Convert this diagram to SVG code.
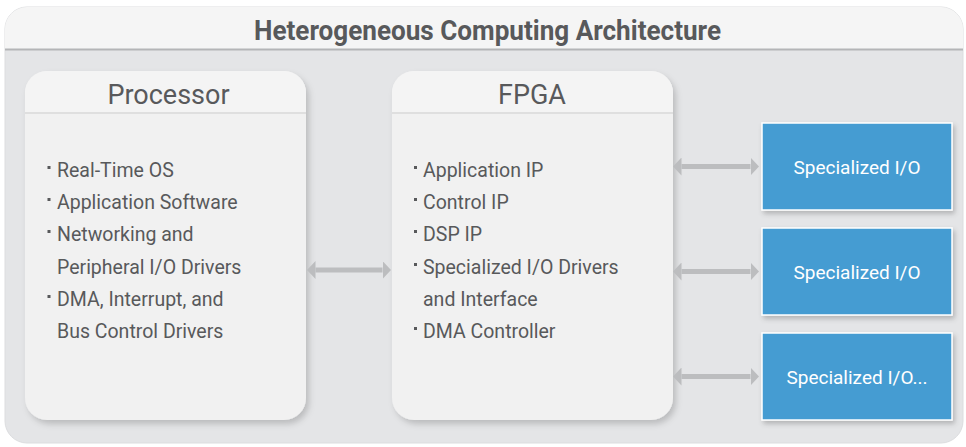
<svg xmlns="http://www.w3.org/2000/svg" width="966" height="447" viewBox="0 0 966 447">
  <style>
    .title { font-family: "Roboto", "Liberation Sans", sans-serif; font-weight: bold; font-size: 27.5px; fill: #58595b; }
    .boxtitle { font-family: "Roboto", "Liberation Sans", sans-serif; font-size: 27px; fill: #58595b; }
    .item { font-family: "Roboto", "Liberation Sans", sans-serif; font-size: 19.5px; fill: #58595b; }
    .io { font-family: "Roboto", "Liberation Sans", sans-serif; font-size: 19px; fill: #ffffff; }
    .card { fill: #f1f1f1; }
    .cardhead { fill: #f4f4f4; }
    .divider { stroke: #d8d8d8; stroke-width: 1.5; }
    .blue { fill: #459cd2; stroke: #ffffff; stroke-width: 1.5; }
    .bullet { fill: #58595b; }
    .conn { stroke: #bcbdbf; stroke-width: 5; fill: none; }
  </style>
  <defs>
    <filter id="shadow" x="-10%" y="-10%" width="125%" height="125%">
      <feDropShadow dx="3" dy="4" stdDeviation="3" flood-color="#000000" flood-opacity="0.18"/>
    </filter>
    <filter id="shadow2" x="-10%" y="-10%" width="125%" height="130%">
      <feDropShadow dx="2" dy="3" stdDeviation="2.5" flood-color="#000000" flood-opacity="0.22"/>
    </filter>
    <marker id="head" markerUnits="userSpaceOnUse" markerWidth="9" markerHeight="18" refX="0" refY="9" orient="auto-start-reverse" viewBox="0 0 9 18">
      <path d="M0,0 L8.5,9 L0,18 z" fill="#bcbdbf"/>
    </marker>
  </defs>

  <g id="container">
    <rect x="5" y="7" width="958" height="436" rx="22" fill="#e4e5e7" stroke="#dcdddf" stroke-width="1"/>
    <path d="M5,49 V29 a22,22 0 0 1 22,-22 H941 a22,22 0 0 1 22,22 V49 z" fill="#f5f5f5"/>
    <line x1="5" y1="49.5" x2="963" y2="49.5" stroke="#b4b5b7" stroke-width="2"/>
    <text class="title" x="487.5" y="39.5" text-anchor="middle" textLength="467" lengthAdjust="spacingAndGlyphs">Heterogeneous Computing Architecture</text>
  </g>

  <g id="processor">
    <rect class="card" x="25" y="71" width="281" height="349" rx="22" filter="url(#shadow)"/>
    <path class="cardhead" d="M25,113 V93 a22,22 0 0 1 22,-22 H284 a22,22 0 0 1 22,22 V113 z"/>
    <line class="divider" x1="25" y1="113" x2="306" y2="113"/>
    <text class="boxtitle" x="168.5" y="104" text-anchor="middle">Processor</text>
    <rect class="bullet" x="47.5" y="166" width="3" height="3"/>
    <text class="item" x="57" y="177">Real-Time OS</text>
    <rect class="bullet" x="47.5" y="198" width="3" height="3"/>
    <text class="item" x="57" y="209">Application Software</text>
    <rect class="bullet" x="47.5" y="230" width="3" height="3"/>
    <text class="item" x="57" y="241">Networking and</text>
    <text class="item" x="57" y="274">Peripheral I/O Drivers</text>
    <rect class="bullet" x="47.5" y="295" width="3" height="3"/>
    <text class="item" x="57" y="306">DMA, Interrupt, and</text>
    <text class="item" x="57" y="338">Bus Control Drivers</text>
  </g>

  <g id="fpga">
    <rect class="card" x="392" y="71" width="281" height="349" rx="22" filter="url(#shadow)"/>
    <path class="cardhead" d="M392,113 V93 a22,22 0 0 1 22,-22 H651 a22,22 0 0 1 22,22 V113 z"/>
    <line class="divider" x1="392" y1="113" x2="673" y2="113"/>
    <text class="boxtitle" x="532" y="104" text-anchor="middle">FPGA</text>
    <rect class="bullet" x="414" y="166" width="3" height="3"/>
    <text class="item" x="423" y="177">Application IP</text>
    <rect class="bullet" x="414" y="198" width="3" height="3"/>
    <text class="item" x="423" y="209">Control IP</text>
    <rect class="bullet" x="414" y="230" width="3" height="3"/>
    <text class="item" x="423" y="241">DSP IP</text>
    <rect class="bullet" x="414" y="263" width="3" height="3"/>
    <text class="item" x="423" y="274">Specialized I/O Drivers</text>
    <text class="item" x="423" y="306">and Interface</text>
    <rect class="bullet" x="414" y="327" width="3" height="3"/>
    <text class="item" x="423" y="338">DMA Controller</text>
  </g>

  <g id="io1">
    <rect class="blue" x="762" y="123" width="190" height="87" filter="url(#shadow2)"/>
    <text class="io" x="857" y="173.5" text-anchor="middle">Specialized I/O</text>
  </g>
  <g id="io2">
    <rect class="blue" x="762" y="228" width="190" height="87" filter="url(#shadow2)"/>
    <text class="io" x="857" y="278.5" text-anchor="middle">Specialized I/O</text>
  </g>
  <g id="io3">
    <rect class="blue" x="762" y="333" width="190" height="87" filter="url(#shadow2)"/>
    <text class="io" x="857" y="383.5" text-anchor="middle">Specialized I/O...</text>
  </g>

  <g id="connectors">
    <line class="conn" x1="315.5" y1="270" x2="382.5" y2="270" marker-start="url(#head)" marker-end="url(#head)"/>
    <line class="conn" x1="681.5" y1="166.5" x2="750.5" y2="166.5" marker-start="url(#head)" marker-end="url(#head)"/>
    <line class="conn" x1="681.5" y1="271.5" x2="750.5" y2="271.5" marker-start="url(#head)" marker-end="url(#head)"/>
    <line class="conn" x1="681.5" y1="376.5" x2="750.5" y2="376.5" marker-start="url(#head)" marker-end="url(#head)"/>
  </g>
</svg>
